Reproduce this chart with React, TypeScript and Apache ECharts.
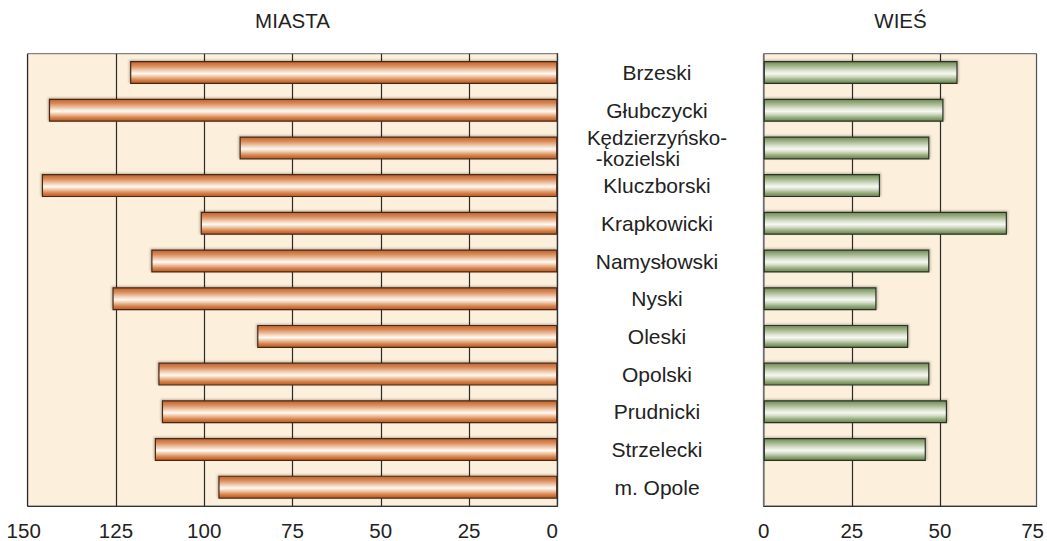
import React, { useEffect, useRef } from "react";
import * as echarts from "echarts";

const categories = [
  "Brzeski",
  "Głubczycki",
  "Kędzierzyńsko-\n-kozielski",
  "Kluczborski",
  "Krapkowicki",
  "Namysłowski",
  "Nyski",
  "Oleski",
  "Opolski",
  "Prudnicki",
  "Strzelecki",
  "m. Opole",
];
const miastaValues = [121, 144, 90, 146, 101, 115, 126, 85, 113, 112, 114, 96];
const wiesValues: (number | null)[] = [55, 51, 47, 33, 69, 47, 32, 41, 47, 52, 46, null];
const titles = ["MIASTA", "WIEŚ"];

const FONT = "'Liberation Sans', Arial, sans-serif";
const TEXT = "#222";
const BG = "#fcefdb";
const GRID_LINE = "#2a2a2a";

const orangeGrad = new echarts.graphic.LinearGradient(0, 0, 0, 1, [
  { offset: 0, color: "#c0622c" },
  { offset: 0.2, color: "#d98d5c" },
  { offset: 0.42, color: "#f3d3ba" },
  { offset: 0.55, color: "#fffaf4" },
  { offset: 0.68, color: "#f0c6a4" },
  { offset: 0.85, color: "#d57f48" },
  { offset: 1, color: "#b45a26" },
]);
const greenGrad = new echarts.graphic.LinearGradient(0, 0, 0, 1, [
  { offset: 0, color: "#6e8a52" },
  { offset: 0.2, color: "#a2b48c" },
  { offset: 0.42, color: "#dde4d2" },
  { offset: 0.55, color: "#f7f8f2" },
  { offset: 0.68, color: "#d3dcc6" },
  { offset: 0.85, color: "#93a87a" },
  { offset: 1, color: "#66824c" },
]);

export default function App() {
  const ref = useRef<HTMLDivElement>(null);
  useEffect(() => {
    const chart = echarts.init(ref.current!, null, { renderer: "svg" });
    const titleStyle = (text: string) => ({
      text,
      textAlign: "center",
      textVerticalAlign: "middle",
      fontSize: 20.5,
      fontFamily: FONT,
      fill: TEXT,
    });
    const tickFont = { fontSize: 20.5, fontFamily: FONT, color: TEXT };
    chart.setOption({
      animation: false,
      graphic: [
        { type: "text", x: 292.5, y: 20, style: titleStyle(titles[0]) },
        { type: "text", x: 900.5, y: 20, style: titleStyle(titles[1]) },
      ],
      grid: [
        {
          left: 27.7,
          right: 1047 - 557.3,
          top: 53.7,
          bottom: 34,
          show: true,
          backgroundColor: BG,
          borderColor: "#666",
          borderWidth: 1,
        },
        {
          left: 763.7,
          right: 10,
          top: 53.7,
          bottom: 34,
          show: true,
          backgroundColor: BG,
          borderColor: "#555",
          borderWidth: 1,
        },
      ],
      xAxis: [
        {
          gridIndex: 0,
          type: "value",
          inverse: true,
          min: 0,
          max: 150,
          interval: 25,
          axisLine: { show: true, lineStyle: { color: "#333", width: 1.2 } },
          axisTick: { show: false },
          splitLine: { show: true, lineStyle: { color: GRID_LINE, width: 1.2 } },
          axisLabel: {
            margin: 14,
            ...tickFont,
            formatter: (v: number) =>
              v === 0 ? "{r|0}" : v === 150 ? "{l|150}" : String(v),
            rich: {
              r: { ...tickFont, padding: [0, 10, 0, 0] },
              l: { ...tickFont, padding: [0, 8, 0, 0] },
            },
          },
        },
        {
          gridIndex: 1,
          type: "value",
          min: 0,
          max: 77.4,
          interval: 25,
          axisLine: { show: true, lineStyle: { color: "#333", width: 1.2 } },
          axisTick: { show: false },
          splitLine: {
            show: true,
            lineStyle: {
              color: [GRID_LINE, GRID_LINE, GRID_LINE, "rgba(0,0,0,0)", "#555"],
              width: 1.2,
            },
          },
          axisLabel: {
            margin: 14,
            ...tickFont,
            showMaxLabel: false,
            formatter: (v: number) =>
              v % 25 !== 0 ? "" : v === 75 ? "{r|75}" : String(v),
            rich: {
              r: { ...tickFont, padding: [0, 0, 0, 9] },
            },
          },
        },
      ],
      yAxis: [
        {
          gridIndex: 0,
          type: "category",
          data: categories,
          inverse: true,
          position: "right",
          axisLine: { show: true, lineStyle: { color: "#333", width: 1.2 } },
          axisTick: { show: false },
          splitLine: { show: false },
          axisLabel: {
            margin: 99.7,
            align: "center",
            fontSize: 21,
            fontFamily: FONT,
            color: TEXT,
            lineHeight: 21,
            formatter: (v: string) =>
              v.includes("\n")
                ? v
                    .split("\n")
                    .map((s, i) => (i === 0 ? `{a|${s}}` : `{b|${s}}`))
                    .join("\n")
                : v,
            rich: {
              a: { fontSize: 20.5, fontFamily: FONT, color: TEXT, lineHeight: 21 },
              b: {
                fontSize: 20.5,
                fontFamily: FONT,
                color: TEXT,
                lineHeight: 21,
                padding: [0, 38, 0, 0],
              },
            },
          },
        },
        {
          gridIndex: 1,
          type: "category",
          data: categories,
          inverse: true,
          axisLine: { show: true, lineStyle: { color: "#888", width: 1.5 } },
          axisTick: { show: false },
          axisLabel: { show: false },
        },
      ],
      series: [
        {
          type: "bar",
          xAxisIndex: 0,
          yAxisIndex: 0,
          data: miastaValues,
          barWidth: 23,
          itemStyle: {
            color: orangeGrad,
            borderColor: "#4a2814",
            borderWidth: 1.2,
            shadowColor: "rgba(0,0,0,0.25)",
            shadowBlur: 2,
            shadowOffsetX: -1,
            shadowOffsetY: -1,
          },
        },
        {
          type: "bar",
          xAxisIndex: 1,
          yAxisIndex: 1,
          data: wiesValues,
          barWidth: 23,
          itemStyle: {
            color: greenGrad,
            borderColor: "#2c3326",
            borderWidth: 1.2,
            shadowColor: "rgba(0,0,0,0.25)",
            shadowBlur: 2,
            shadowOffsetX: 1,
            shadowOffsetY: -1,
          },
        },
      ],
    });
    return () => chart.dispose();
  }, []);
  return (
    <div
      ref={ref}
      style={{ position: "absolute", left: 0, top: 0, width: 1047, height: 541 }}
    />
  );
}
